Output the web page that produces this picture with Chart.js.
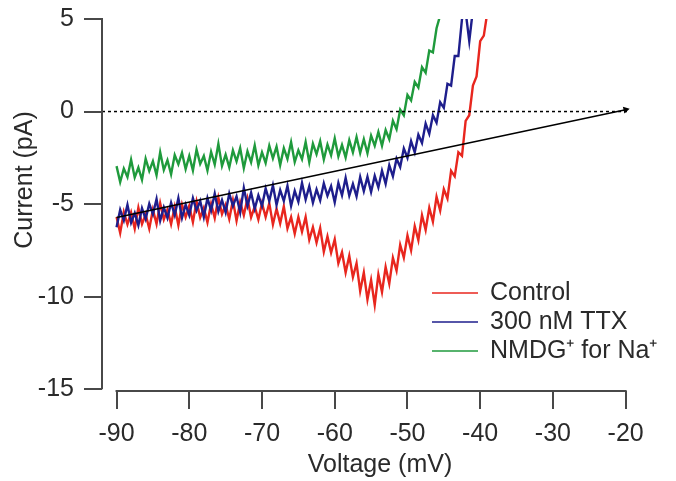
<!DOCTYPE html>
<html>
<head>
<meta charset="utf-8">
<script src="https://cdn.jsdelivr.net/npm/chart.js@4.4.1/dist/chart.umd.min.js"></script>
<style>
  html, body { margin: 0; padding: 0; background: #fff; }
  #wrap { width: 676px; height: 481px; }
</style>
</head>
<body>
<div id="wrap"><canvas id="ivChart"></canvas></div>
<script>
// sweep voltages (mV), shared by the three traces
const volts = [-90,-89.5,-89,-88.5,-88,-87.5,-87,-86.5,-86,-85.5,-85,-84.5,-84,-83.5,-83,-82.5,-82,-81.5,-81,-80.5,
  -80,-79.5,-79,-78.5,-78,-77.5,-77,-76.5,-76,-75.5,-75,-74.5,-74,-73.5,-73,-72.5,-72,-71.5,-71,-70.5,
  -70,-69.5,-69,-68.5,-68,-67.5,-67,-66.5,-66,-65.5,-65,-64.5,-64,-63.5,-63,-62.5,-62,-61.5,-61,-60.5,
  -60,-59.5,-59,-58.5,-58,-57.5,-57,-56.5,-56,-55.5,-55,-54.5,-54,-53.5,-53,-52.5,-52,-51.5,-51,-50.5,
  -50,-49.5,-49,-48.5,-48,-47.5,-47,-46.5,-46,-45.5,-45,-44.5,-44,-43.5,-43,-42.5,-42,-41.5,-41,-40.5,
  -40,-39.5,-39];

// currents (pA)
const controlI = [-5.7,-6.56,-5.43,-6.09,-5.45,-6.33,-5.2,-6.08,-5.55,-6.33,
  -5.3,-6.08,-4.95,-5.83,-5.3,-6.08,-5.15,-6.14,-5.03,-5.71,
  -5.1,-5.98,-4.85,-5.73,-5.2,-5.99,-4.98,-5.76,-4.65,-5.54,
  -5.03,-5.81,-4.8,-5.9,-4.9,-5.6,-4.7,-5.71,-5.13,-5.84,
  -4.95,-5.7,-4.95,-6.1,-5.25,-6.04,-5.13,-6.31,-5.7,-6.6,
  -5.7,-6.5,-5.7,-6.93,-6.25,-7.08,-6.3,-7.58,-6.75,-7.63,
  -6.9,-8.2,-7.6,-8.7,-7.8,-8.95,-8.2,-9.7,-8.7,-10.15,
  -9.1,-10.45,-8.8,-9.75,-8.4,-9.3,-7.9,-8.6,-7.2,-7.9,
  -6.7,-7.5,-6.2,-6.95,-5.6,-6.4,-5.2,-5.95,-4.6,-5.35,
  -4.2,-4.7,-3.2,-3.5,-2.2,-2.4,-0.5,-0.2,1.4,1.9,
  3.8,4.1,5.4];
const ttxI = [-6.25,-5.31,-5.88,-5.04,-6.0,-5.48,-6.15,-5.23,-5.8,-4.98,
  -5.55,-4.73,-5.9,-5.18,-5.75,-4.93,-5.6,-4.68,-5.75,-5.03,
  -5.6,-4.68,-5.35,-4.83,-5.7,-4.68,-5.35,-4.43,-5.4,-4.78,
  -5.45,-4.43,-5.1,-4.58,-5.45,-4.13,-5.1,-4.38,-5.25,-4.53,
  -5.1,-4.16,-4.83,-3.99,-5.05,-4.24,-4.83,-4.01,-5.1,-4.29,
  -4.88,-3.86,-4.75,-4.04,-4.93,-4.21,-4.8,-3.88,-4.55,-4.03,
  -4.9,-3.86,-4.53,-3.59,-4.55,-3.91,-4.58,-3.54,-4.3,-3.53,
  -4.35,-3.48,-4.1,-3.2,-3.9,-2.9,-3.5,-2.55,-3.0,-2.0,
  -2.5,-1.6,-2.2,-1.25,-1.7,-0.65,-1.2,-0.2,-0.6,0.5,
  0.2,1.5,1.4,3.0,3.0,5.0,5.4,3.8,5.5];
const nmdgI = [-2.95,-3.81,-3.08,-3.54,-2.6,-3.56,-3.03,-3.69,-2.55,-3.21,
  -2.68,-3.44,-2.2,-3.16,-2.63,-3.39,-2.35,-2.84,-2.23,-3.11,
  -2.4,-3.18,-2.05,-2.83,-2.4,-3.19,-2.18,-2.86,-1.75,-2.94,
  -2.33,-3.01,-2.1,-2.69,-1.98,-3.06,-2.15,-2.74,-1.83,-2.91,
  -2.2,-2.78,-1.85,-2.53,-1.9,-2.89,-1.98,-2.56,-1.65,-2.73,
  -2.1,-2.58,-1.65,-2.74,-1.73,-2.31,-1.6,-2.59,-1.78,-2.36,
  -1.45,-2.43,-1.8,-2.48,-1.55,-2.21,-1.38,-2.24,-1.5,-2.25,
  -1.3,-1.85,-1.1,-1.85,-1.0,-1.5,-0.5,-0.95,0.1,-0.2,
  0.9,0.6,1.6,1.3,2.4,2.1,3.3,3.2,4.5,5.2];

// linear fit line and zero reference
const fitV = [-90, -20];
const fitI = [-5.73, 0.1];
const zeroV = [-92, -19.4];
const zeroI = [0, 0];

const seriesNames = ['Control', '300 nM TTX', 'NMDG\u207A for Na\u207A'];
const seriesColors = ['#e8261e', '#1e1e8c', '#1f9a3c'];
const xTicks = [-90, -80, -70, -60, -50, -40, -30, -20];
const yTicks = [-15, -10, -5, 0, 5];

const axisColor = '#484848';
const textColor = '#2a2a2a';
const fontFamily = '"Liberation Sans", Arial, Helvetica, sans-serif';

const toPoints = (xs, ys) => ys.map((v, i) => ({ x: xs[i], y: v }));

// axis lines, axis titles and the in-plot legend
const extras = {
    id: 'extras',
    afterDraw(chart) {
        const ctx = chart.ctx;
        const a = chart.chartArea;
        const x = chart.scales.x;
        const y = chart.scales.y;
        ctx.save();
        ctx.strokeStyle = axisColor;
        ctx.lineWidth = 2;
        ctx.beginPath();
        ctx.moveTo(a.left, y.getPixelForValue(5) - 1);
        ctx.lineTo(a.left, y.getPixelForValue(-15));
        ctx.moveTo(x.getPixelForValue(-90) - 1, a.bottom);
        ctx.lineTo(x.getPixelForValue(-20) + 1, a.bottom);
        ctx.stroke();

        ctx.fillStyle = textColor;
        ctx.font = '25px ' + fontFamily;
        ctx.textAlign = 'center';
        ctx.textBaseline = 'middle';
        ctx.fillText('Voltage (mV)', 380, 465);
        ctx.save();
        ctx.translate(25, 180);
        ctx.rotate(-Math.PI / 2);
        ctx.fillText('Current (pA)', 0, 0);
        ctx.restore();

        // legend
        ctx.textAlign = 'left';
        ctx.lineWidth = 1.5;
        seriesNames.forEach((name, i) => {
            const ly = 293 + i * 29;
            ctx.strokeStyle = seriesColors[i];
            ctx.beginPath();
            ctx.moveTo(432, ly);
            ctx.lineTo(478, ly);
            ctx.stroke();
            ctx.fillStyle = textColor;
            ctx.fillText(name, 490, ly);
        });
        ctx.restore();
    }
};

const ctx = document.getElementById('ivChart').getContext('2d');
const ivChart = new Chart(ctx, {
    type: 'line',
    data: {
        datasets: [
            {
                label: 'fit',
                data: toPoints(fitV, fitI),
                borderColor: '#000',
                backgroundColor: '#000',
                borderWidth: 1.6,
                pointRadius: [0, 2.5],
                pointStyle: 'triangle',
                rotation: 78,
                order: 0
            },
            {
                label: 'zero',
                data: toPoints(zeroV, zeroI),
                borderColor: '#000',
                borderWidth: 1.5,
                borderDash: [3, 3],
                pointRadius: 0,
                order: 1
            },
            {
                label: seriesNames[1],
                data: toPoints(volts, ttxI),
                borderColor: seriesColors[1],
                borderWidth: 2.4,
                pointRadius: 0,
                order: 2
            },
            {
                label: seriesNames[2],
                data: toPoints(volts, nmdgI),
                borderColor: seriesColors[2],
                borderWidth: 2.4,
                pointRadius: 0,
                order: 3
            },
            {
                label: seriesNames[0],
                data: toPoints(volts, controlI),
                borderColor: seriesColors[0],
                borderWidth: 2.4,
                pointRadius: 0,
                order: 4
            }
        ]
    },
    options: {
        responsive: true,
        maintainAspectRatio: false,
        animation: false,
        layout: {
            padding: { top: 19, right: 46, left: 0, bottom: 0 }
        },
        elements: {
            line: { tension: 0 }
        },
        plugins: {
            legend: { display: false },
            tooltip: { enabled: false }
        },
        scales: {
            x: {
                type: 'linear',
                min: -92,
                max: -19.4,
                afterBuildTicks: s => { s.ticks = xTicks.map(v => ({ value: v })); },
                afterFit: s => { s.height = 90; s.paddingLeft = 0; s.paddingRight = 0; },
                border: { display: false },
                grid: {
                    drawOnChartArea: false,
                    drawTicks: true,
                    tickLength: 18,
                    color: axisColor,
                    lineWidth: 2
                },
                ticks: {
                    color: textColor,
                    font: { family: fontFamily, size: 25 },
                    padding: 10,
                    maxRotation: 0
                }
            },
            y: {
                type: 'linear',
                min: -15.1,
                max: 5,
                afterBuildTicks: s => { s.ticks = yTicks.map(v => ({ value: v })); },
                afterFit: s => { s.width = 102; s.paddingTop = 0; s.paddingBottom = 0; },
                border: { display: false },
                grid: {
                    drawOnChartArea: false,
                    drawTicks: true,
                    tickLength: 18,
                    color: axisColor,
                    lineWidth: 2
                },
                ticks: {
                    color: textColor,
                    font: { family: fontFamily, size: 25 },
                    padding: 10
                }
            }
        }
    },
    plugins: [extras]
});
</script>
</body>
</html>
